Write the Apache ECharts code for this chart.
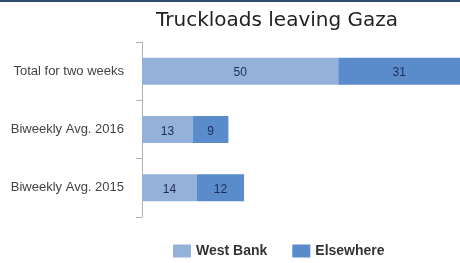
<!DOCTYPE html>
<html>
<head>
<meta charset="utf-8">
<script src="https://cdn.jsdelivr.net/npm/echarts@6/dist/echarts.min.js"></script>
<style>
  html, body { margin: 0; padding: 0; background: #fff; }
  #topbar { position: absolute; left: 0; top: 0; width: 460px; height: 2px; background: #2f4b6b; }
  #chart { width: 460px; height: 263px; }
</style>
</head>
<body>
<div id="topbar"></div>
<div id="chart"></div>
<script>
var categories = ['Total for two weeks', 'Biweekly Avg. 2016', 'Biweekly Avg. 2015'];
var westBank = [50, 13, 14];
var elsewhere = [31, 9, 12];
var seriesNames = ['West Bank', 'Elsewhere'];
var colors = ['#93b1d9', '#5a8bcb'];

(function () {
  var myChart = echarts.init(document.getElementById('chart'));
  var labelStyle = {
    show: true,
    position: 'inside',
    color: '#1f2d5a',
    fontSize: 12,
    fontFamily: 'Liberation Sans, Arial, sans-serif',
    offset: [0, 2]
  };
  var option = {
    animation: false,
    title: {
      text: 'Truckloads leaving Gaza',
      left: 151,
      top: 6,
      textStyle: {
        color: '#222',
        fontSize: 20,
        fontWeight: 'normal',
        fontFamily: 'DejaVu Sans, Verdana, sans-serif'
      }
    },
    legend: {
      data: seriesNames,
      left: 168,
      top: 239,
      itemWidth: 18,
      itemHeight: 13,
      itemGap: 25,
      icon: 'rect',
      textStyle: {
        color: '#333',
        fontSize: 14,
        fontWeight: 'bold',
        fontFamily: 'Liberation Sans, Arial, sans-serif'
      }
    },
    grid: {
      left: 142,
      right: 0,
      top: 42,
      height: 175,
      containLabel: false
    },
    xAxis: {
      type: 'value',
      min: 0,
      max: 81,
      show: false
    },
    yAxis: {
      type: 'category',
      data: categories,
      inverse: true,
      axisLine: { show: true, lineStyle: { color: '#b0b0b0' } },
      axisTick: { show: true, length: 6, lineStyle: { color: '#b0b0b0' } },
      axisLabel: {
        color: '#444',
        fontSize: 13,
        margin: 18,
        fontFamily: 'Liberation Sans, Arial, sans-serif'
      }
    },
    series: [{
      name: seriesNames[0],
      type: 'bar',
      stack: 'total',
      data: westBank,
      barWidth: 27,
      itemStyle: { color: colors[0] },
      label: labelStyle
    }, {
      name: seriesNames[1],
      type: 'bar',
      stack: 'total',
      data: elsewhere,
      barWidth: 27,
      itemStyle: { color: colors[1] },
      label: labelStyle
    }]
  };
  myChart.setOption(option);
  window.addEventListener('resize', function () {
    myChart.resize();
  });
})();
</script>
</body>
</html>
